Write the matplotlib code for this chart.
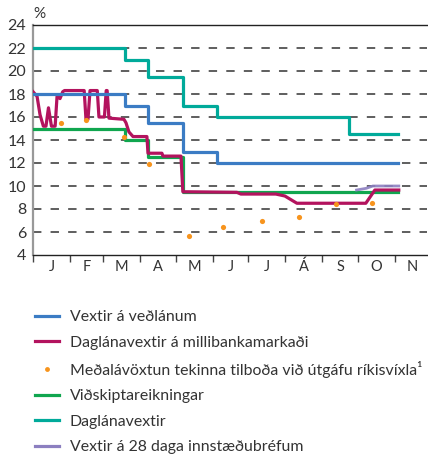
import matplotlib
matplotlib.use("Agg")
import matplotlib.pyplot as plt
from matplotlib.lines import Line2D

plt.rcParams['font.family'] = ['Lato', 'DejaVu Sans']

# x values are days from 1 January
month_starts = [0, 31, 59, 90, 120, 151, 181, 212, 243, 273, 304]
month_labels = ['J', 'F', 'M', 'A', 'M', 'J', 'J', 'Á', 'S', 'O', 'N']
month_mids = [15.5, 45, 74.5, 105, 135.5, 166, 196.5, 227.5, 258, 288.5, 319]

# Vextir á veðlánum (step)
blue_days = [0, 77, 96.6, 126, 154.5, 307]
blue_vals = [18, 17, 15.5, 13, 12, 12]

# Daglánavextir (step)
teal_days = [0, 77, 96.6, 126, 154.5, 265.3, 307]
teal_vals = [22, 21, 19.5, 17, 16, 14.5, 14.5]

# Viðskiptareikningar (step)
green_days = [0, 77, 96.6, 126, 307]
green_vals = [15, 14, 12.5, 9.5, 9.5]

# Daglánavextir á millibankamarkaði
mag_days = [0, 3.4, 5.9, 8.7, 10.9, 13.0, 15.5, 18.6, 20.2, 22.7, 25.0, 26.5,
            43.0, 44.5, 46.2, 47.9, 54.0, 55.4, 60.0, 61.5, 62.3, 63.8, 76.4,
            78.1, 80.6, 84.0, 95.7, 96.6, 108.3, 109.2, 124.3, 125.9, 171.3,
            174.6, 204.0, 211.6, 221.7, 279.6, 287.2, 307.3]
mag_vals = [18.2, 17.8, 16.2, 15.2, 15.2, 16.8, 15.2, 15.2, 17.8, 17.6, 18.2, 18.3,
            18.3, 15.8, 15.8, 18.3, 18.3, 16.0, 16.0, 18.3, 18.3, 15.9, 15.8,
            15.5, 14.7, 14.3, 14.3, 12.85, 12.85, 12.6, 12.6, 9.5, 9.45,
            9.3, 9.3, 9.13, 8.5, 8.5, 9.65, 9.65]

# Meðalávöxtun tekinna tilboða við útgáfu ríkisvíxla
dot_days = [23.3, 44.5, 76.7, 97.6, 131.2, 159.3, 192.5, 223.6, 254.2, 284.4]
dot_vals = [15.5, 15.7, 14.23, 11.9, 5.65, 6.41, 6.96, 7.28, 8.43, 8.49]

# Vextir á 28 daga innstæðubréfum
purple_days = [271.8, 280.0, 285.5, 307.3]
purple_vals = [9.65, 9.8, 10.0, 10.0]

labels = ['Vextir á veðlánum',
          'Daglánavextir á millibankamarkaði',
          'Meðalávöxtun tekinna tilboða við útgáfu ríkisvíxla¹',
          'Viðskiptareikningar',
          'Daglánavextir',
          'Vextir á 28 daga innstæðubréfum']

c_blue = '#3B7CC4'
c_mag = '#B3135E'
c_orange = '#F7941D'
c_green = '#10A64F'
c_teal = '#00AA9A'
c_purple = '#8C7FC0'

W, H = 428, 457
fig = plt.figure(figsize=(W / 100, H / 100), dpi=100)
ax = fig.add_axes([33 / W, 1 - 255 / H, 394 / W, 230 / H])

lw = 2.3
ax.step(teal_days, teal_vals, where='post', color=c_teal, lw=lw, zorder=3)
ax.step(green_days, green_vals, where='post', color=c_green, lw=lw, zorder=3)
ax.plot(mag_days, mag_vals, color=c_mag, lw=lw, zorder=4)
ax.step(blue_days, blue_vals, where='post', color=c_blue, lw=lw, zorder=5)
ax.plot(purple_days, purple_vals, color=c_purple, lw=2.0, zorder=6, alpha=0.9)
ax.scatter(dot_days, dot_vals, s=14, color=c_orange, zorder=7, linewidths=0)

ax.set_xlim(0, 331)
ax.set_ylim(4, 24)
ax.set_yticks(range(4, 25, 2))
for y in range(6, 23, 2):
    ax.axhline(y, color='#333333', lw=1.1, ls=(0, (5.5, 6.0)), zorder=1)

ax.set_xticks(month_starts)
ax.set_xticklabels([])
ax.set_xticks(month_mids, minor=True)
ax.set_xticklabels(month_labels, minor=True)
ax.tick_params(axis='x', which='major', length=5, width=1.0, color='#444444', direction='out')
ax.tick_params(axis='x', which='minor', length=0, labelsize=10.5, pad=3.5, labelcolor='#333333')
ax.tick_params(axis='y', length=0, labelsize=11.5, pad=5, labelcolor='#333333')

ax.spines['right'].set_visible(False)
ax.spines['top'].set_color('#222222')
ax.spines['top'].set_linewidth(1.0)
ax.spines['bottom'].set_color('#222222')
ax.spines['bottom'].set_linewidth(1.0)
ax.spines['left'].set_color('#999999')
ax.spines['left'].set_linewidth(1.6)

fig.text(33 / W, 1 - 14 / H, '%', fontsize=11, color='#333333', ha='left', va='center')

handles = [Line2D([], [], color=c_blue, lw=lw),
           Line2D([], [], color=c_mag, lw=lw),
           Line2D([], [], color=c_orange, lw=0, marker='o', markersize=3.5, markeredgewidth=0),
           Line2D([], [], color=c_green, lw=lw),
           Line2D([], [], color=c_teal, lw=lw),
           Line2D([], [], color=c_purple, lw=lw)]
leg = fig.legend(handles, labels, loc='upper left', bbox_to_anchor=(35 / W, 1 - 310 / H),
                 frameon=False, fontsize=11.4, handlelength=1.5, handletextpad=0.7,
                 labelspacing=0.72, borderpad=0, borderaxespad=0)
for t in leg.get_texts():
    t.set_color('#333333')

fig.savefig('out.png', dpi=100)
